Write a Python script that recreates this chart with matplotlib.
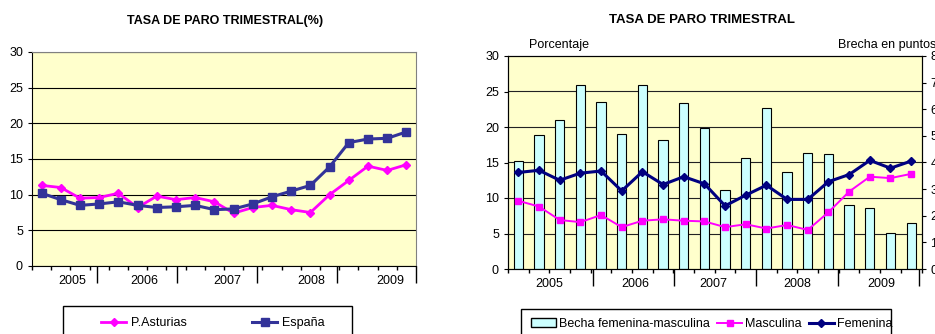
import matplotlib
matplotlib.use("Agg")
import matplotlib.pyplot as plt
from matplotlib.lines import Line2D
from matplotlib.patches import Patch, Rectangle
from matplotlib.transforms import blended_transform_factory

plt.rcParams['font.family'] = ['Liberation Sans', 'DejaVu Sans']
plt.rcParams['font.size'] = 9

# quarterly data, 2005 Q1 .. 2009 Q4
years = ['2005', '2006', '2007', '2008', '2009']
asturias = [11.3, 11.0, 9.5, 9.6, 10.2, 8.2, 9.8, 9.3, 9.6, 9.0,
            7.4, 8.2, 8.5, 7.9, 7.5, 10.0, 12.0, 14.0, 13.4, 14.2]
espana = [10.2, 9.3, 8.5, 8.7, 9.0, 8.5, 8.2, 8.3, 8.5, 7.9,
          8.0, 8.7, 9.7, 10.5, 11.3, 13.9, 17.3, 17.8, 17.9, 18.8]

# right chart: rates by sex (%) and gap in points
femenina = [13.6, 13.9, 12.5, 13.5, 13.8, 11.0, 13.7, 11.9, 13.0, 12.0,
            8.9, 10.4, 11.8, 9.8, 9.8, 12.3, 13.3, 15.3, 14.2, 15.2]
masculina = [9.6, 8.8, 6.9, 6.6, 7.6, 5.9, 6.8, 7.0, 6.8, 6.7,
             5.9, 6.3, 5.7, 6.2, 5.5, 8.0, 10.9, 13.0, 12.8, 13.4]
brecha = [4.04, 5.03, 5.58, 6.9, 6.27, 5.07, 6.9, 4.85, 6.24, 5.31,
          2.98, 4.17, 6.03, 3.63, 4.35, 4.31, 2.42, 2.29, 1.34, 1.71]

# where the year labels / separators sit on each category axis
left_year_pos = [1.58, 5.36, 9.69, 14.06, 18.17]
left_sep_pos = [2.88, 7.05, 11.2, 15.38, 19.5]
right_year_pos = [1.5, 5.65, 9.45, 13.5, 17.55]
right_sep_pos = [3.6, 7.55, 11.5, 15.45, 19.4]

x = list(range(len(asturias)))

W, H = 935, 334
fig = plt.figure(figsize=(W / 100, H / 100), dpi=100)


def fx(px):
    return px / W


def fy(py):
    return 1 - py / H


def cat_axis(ax, year_pos, sep_pos):
    # excel style category axis: small ticks per quarter, long ones per year
    ax.set_xlim(-0.5, len(x) - 0.5)
    ax.set_xticks(sep_pos)
    ax.set_xticklabels([])
    ax.set_xticks([i - 0.5 for i in range(len(x) + 1)], minor=True)
    ax.tick_params(axis='x', which='major', length=12, width=1)
    ax.tick_params(axis='x', which='minor', length=3, width=1)
    trans = blended_transform_factory(ax.transData, ax.transAxes)
    for yr, p in zip(years, year_pos):
        ax.annotate(yr, xy=(p, 0), xycoords=trans, xytext=(0, -11),
                    textcoords='offset points', ha='center', va='center')


# ---- left chart ----
ax1 = fig.add_axes([fx(32), fy(266), fx(416) - fx(32), (266 - 52) / H])
ax1.set_facecolor('#FFFFCC')
ax1.plot(x, asturias, color='#FF00FF', lw=2, marker='D', ms=4.5,
         label='P.Asturias', zorder=3)
ax1.plot(x, espana, color='#333399', lw=2.2, marker='s', ms=5.5,
         label='España', zorder=3)
ax1.set_ylim(0, 30)
ax1.set_yticks(range(0, 31, 5))
ax1.yaxis.grid(True, color='black', lw=0.8)
ax1.set_axisbelow(True)
ax1.tick_params(axis='y', length=3)
for s in ['top', 'right']:
    ax1.spines[s].set_color('#808080')
cat_axis(ax1, left_year_pos, left_sep_pos)

fig.text(fx(225), fy(21), 'TASA DE PARO TRIMESTRAL(%)', ha='center',
         va='center', fontsize=9, fontweight='bold')

# ---- right chart ----
ax2 = fig.add_axes([fx(508), fy(269), fx(921.5) - fx(508), (269 - 56) / H])
axb = ax2.twinx()
ax2.set_zorder(axb.get_zorder() + 1)
ax2.patch.set_visible(False)
axb.patch.set_visible(True)
axb.set_facecolor('#FFFFCC')

axb.bar(x, brecha, width=0.45, color='#CCFFFF', edgecolor='black', lw=0.8)
axb.set_ylim(0, 8)
axb.set_yticks(range(0, 9))
axb.tick_params(axis='y', length=3)

ax2.plot(x, masculina, color='#FF00FF', lw=1.4, marker='s', ms=4.8)
ax2.plot(x, femenina, color='#000080', lw=2.2, marker='D', ms=4)
ax2.set_ylim(0, 30)
ax2.set_yticks(range(0, 31, 5))
ax2.tick_params(axis='y', length=3)

# gridlines of the % axis, kept behind the bars
for t in ax2.get_yticks()[1:-1]:
    axb.axhline(t * 8 / 30, color='#222222', lw=0.8, zorder=0.5)

cat_axis(ax2, right_year_pos, right_sep_pos)
axb.set_xlim(ax2.get_xlim())

fig.text(fx(702), fy(20), 'TASA DE PARO TRIMESTRAL', ha='center',
         va='center', fontsize=9.5, fontweight='bold')
fig.text(fx(529), fy(45), 'Porcentaje', ha='left', va='center')
fig.text(fx(838), fy(45), 'Brecha en puntos', ha='left', va='center')

# ---- legends (boxes run past the bottom edge, like the source) ----
fig.add_artist(Rectangle((fx(63), fy(345)), fx(352) - fx(63), (345 - 306) / H,
                         transform=fig.transFigure, fill=False,
                         ec='black', lw=1))
fig.legend(handles=[
    Line2D([], [], color='#FF00FF', lw=2, marker='D', ms=4.5, label='P.Asturias'),
    Line2D([], [], color='#333399', lw=2.2, marker='s', ms=5.5, label='España')],
    loc='center left', bbox_to_anchor=(fx(95), fy(323)), ncol=2,
    frameon=False, borderpad=0, handlelength=2.0, handletextpad=0.4,
    columnspacing=5.2, fontsize=9)

fig.add_artist(Rectangle((fx(521), fy(345)), fx(891) - fx(521), (345 - 309) / H,
                         transform=fig.transFigure, fill=False,
                         ec='black', lw=1))
fig.legend(handles=[
    Patch(fc='#CCFFFF', ec='black', label='Becha femenina-masculina'),
    Line2D([], [], color='#FF00FF', lw=1.4, marker='s', ms=4.8, label='Masculina'),
    Line2D([], [], color='#000080', lw=2.2, marker='D', ms=4, label='Femenina')],
    loc='center left', bbox_to_anchor=(fx(525), fy(324)), ncol=3,
    frameon=False, borderpad=0, handlelength=2.0, handletextpad=0.25,
    columnspacing=0.55, fontsize=9)

fig.savefig('out.png', dpi=100)
